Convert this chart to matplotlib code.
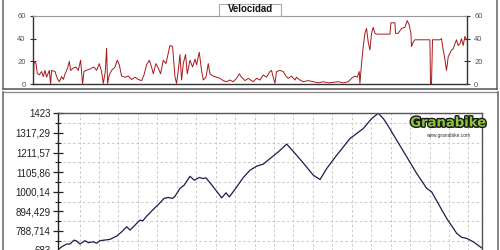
import numpy as np
import matplotlib
matplotlib.use("Agg")
import matplotlib.pyplot as plt
from matplotlib.lines import Line2D
from matplotlib.patches import Rectangle
import matplotlib.patheffects as pe

# ---- data ----
speed_km = [0.00, 0.07, 0.27, 0.40, 0.60, 0.83, 1.00, 1.17, 1.33, 1.60, 1.73, 1.83, 2.17, 2.40, 2.60,
            2.83, 3.00, 3.20, 3.43, 3.60, 3.73, 4.00, 4.27, 4.50, 4.73, 4.93, 5.07, 5.27, 5.60, 5.83,
            6.07, 6.33, 6.60, 6.83, 7.00, 7.20, 7.33, 7.43, 7.60, 7.83, 8.17, 8.40, 8.60, 8.83, 9.17,
            9.50, 9.83, 10.17, 10.50, 10.83, 11.07, 11.33, 11.60, 11.83, 12.00, 12.27, 12.50, 12.73,
            13.00, 13.27, 13.50, 13.67, 13.93, 14.17, 14.33, 14.50, 14.67, 14.83, 15.00, 15.23, 15.40,
            15.67, 15.93, 16.17, 16.33, 16.60, 16.83, 17.00, 17.27, 17.50, 17.67, 18.00, 18.33, 18.67,
            19.00, 19.33, 19.67, 20.00, 20.33, 20.60, 20.83, 21.17, 21.50, 22.00, 22.33, 22.67, 23.00,
            23.33, 23.67, 23.83, 24.00, 24.17, 24.33, 24.67, 25.00, 25.27, 25.50, 25.83, 26.17, 26.33,
            26.67, 27.00, 27.50, 28.00, 28.50, 29.00, 29.50, 30.00, 30.50, 31.00, 31.50, 31.83, 32.17,
            32.40, 32.60, 32.67, 32.83, 33.00, 33.17, 33.33, 33.50, 33.67, 33.83, 34.00, 34.17, 34.33,
            35.67, 35.77, 36.17, 36.23, 36.50, 36.83, 37.17, 37.40, 37.60, 37.77, 37.83, 38.00, 38.17,
            39.67, 39.73, 39.83, 39.93, 40.67, 40.83, 41.00, 41.17, 41.33, 41.50, 41.67, 41.83, 42.00,
            42.17, 42.33, 42.50, 42.67, 42.83, 43.00, 43.17, 43.33]
speed_val = [0, 19.7, 18, 9.4, 8, 11, 6.5, 12, 6, 12, 0, 12, 11, 5, 2,
             6.5, 4, 9.4, 14, 20, 12, 14, 15, 12, 21, 0, 11, 12, 13, 14,
             15, 12, 18, 11, 0.5, 11, 31.5, 0.5, 8, 12, 15, 21, 17, 7, 6,
             7, 4, 6, 4, 3, 8, 17, 21, 15, 9, 18, 14, 9,
             21, 18, 27, 34, 33, 6.5, 0.5, 12, 26, 3.5, 18, 26, 9,
             21, 15, 22, 17, 28, 12, 3.5, 6, 18, 9, 7, 6, 5,
             3, 2, 3.5, 2, 5, 9, 6, 3, 5, 2, 5, 3.5, 8,
             6, 11, 12, 6, 0.5, 11, 12, 11, 7, 5, 7, 3.5, 6,
             3.5, 2, 3, 2, 1, 2, 1, 1.5, 2, 1, 2, 5, 7,
             6, 11, 0.5, 18, 33, 44.7, 49, 37, 30, 44.7, 50, 44.7, 44,
             44, 54, 54, 44.7, 44.7, 49, 50, 56, 52, 44.7, 33, 37, 39,
             39, 0, 0, 39, 39, 40, 30, 22, 12, 24, 27, 30, 31,
             35.5, 39, 34, 35.5, 40, 34, 42, 39]

elev_km = [0.00, 0.35, 0.86, 1.20, 1.60, 1.81, 2.22, 2.73, 3.07, 3.58, 3.92, 4.26, 5.28, 5.97, 6.48,
           6.99, 7.33, 8.01, 8.35, 8.63, 9.03, 9.71, 10.39, 10.80, 11.24, 11.69, 11.93, 12.44, 12.85,
           13.46, 13.90, 14.41, 14.76, 15.09, 15.84, 16.70, 17.14, 17.48, 18.23, 18.91, 19.59, 20.28,
           20.95, 21.64, 22.48, 23.34, 24.19, 25.21, 26.06, 26.75, 27.43, 28.45, 29.81, 31.17, 32.03,
           32.70, 33.22, 33.56, 34.58, 35.61, 36.63, 37.65, 38.16, 39.01, 39.69, 40.72, 41.23, 41.74,
           42.41, 43.33]
elev_val = [689, 703, 718, 718, 739, 736, 718, 736, 725, 730, 722, 736, 743, 761, 784,
            811, 793, 829, 847, 843, 868, 905, 940, 964, 969, 964, 976, 1018, 1035,
            1083, 1062, 1077, 1071, 1075, 1026, 967, 994, 972, 1026, 1077, 1116, 1138,
            1149, 1179, 1215, 1257, 1207, 1144, 1089, 1066, 1125, 1197, 1287, 1341, 1395,
            1423, 1394, 1368, 1278, 1188, 1098, 1018, 999, 919, 856, 775, 754, 748,
            730, 695]

speed_ticks = [0, 20, 40, 60]
elev_ticks = [683, 788.714, 894.429, 1000.14, 1105.86, 1211.57, 1317.29, 1423]
elev_labels = ["683", "788,714", "894,429", "1000,14", "1105,86", "1211,57", "1317,29", "1423"]
title_text = "Velocidad"

# ---- figure ----
W, H = 500, 250
fig = plt.figure(figsize=(5, 2.5), dpi=100)
fig.patch.set_facecolor("white")
plt.rcParams['font.family'] = ['Liberation Sans', 'DejaVu Sans']

def fx(px):
    return px / W

def fy(py):
    return 1 - py / H

# panel frames
fig.add_artist(Line2D([fx(3), fx(3)], [fy(0), fy(89)], color="#707070", lw=1.2))
fig.add_artist(Line2D([fx(497), fx(497)], [fy(0), fy(89)], color="#707070", lw=1.2))
fig.add_artist(Line2D([fx(3), fx(497)], [fy(89), fy(89)], color="#606060", lw=1.2))
fig.add_artist(Line2D([fx(3), fx(497)], [fy(91.5), fy(91.5)], color="#909090", lw=1.0))
fig.add_artist(Line2D([fx(3), fx(3)], [fy(91.5), fy(251)], color="#707070", lw=1.2))
fig.add_artist(Line2D([fx(497.5), fx(497.5)], [fy(91.5), fy(251)], color="#707070", lw=1.2))

# ---- top: speed ----
ax1 = fig.add_axes([fx(33.3), fy(84), fx(466.5) - fx(33.3), fy(16) - fy(84)])
ax1.plot(speed_km, speed_val, color="#a81818", lw=0.7)
ax1.set_xlim(0, 43.33)
ax1.set_ylim(0, 60)
ax1.set_xticks([])
ax1.set_yticks(speed_ticks)
ax1.tick_params(axis="y", which="both", direction="inout", length=5, width=0.8,
                labelsize=5.5, labelcolor="#555555", color="#333333", pad=3,
                left=True, right=True, labelleft=True, labelright=True)
for s in ["left", "right", "bottom"]:
    ax1.spines[s].set_color("#333333")
    ax1.spines[s].set_linewidth(1.0)
ax1.spines["top"].set_color("#999999")
ax1.spines["top"].set_linewidth(0.8)

# title box
fig.add_artist(Rectangle((fx(219), fy(16)), fx(62), 12 / H, facecolor="white",
                         edgecolor="#aaaaaa", lw=0.8))
fig.text(fx(250), fy(9.5), title_text, ha="center", va="center", fontsize=6.9,
         fontweight="bold", color="#111111")

# ---- bottom: elevation ----
ax2 = fig.add_axes([fx(58.3), fy(250.5), fx(482.3) - fx(58.3), fy(113.3) - fy(250.5)])
ax2.plot(elev_km, elev_val, color="#1c1c50", lw=0.9)
ax2.set_xlim(0, 43.33)
ax2.set_ylim(683, 1423)
ax2.set_yticks(elev_ticks)
ax2.set_yticklabels(elev_labels)
mids = [(a + b) / 2 for a, b in zip(elev_ticks[:-1], elev_ticks[1:])]
ax2.set_yticks(mids, minor=True)
xgrid = 2.17 + 1.987 * np.arange(21)
ax2.set_xticks(xgrid, minor=True)
ax2.set_xticks([])
ax2.tick_params(axis="y", which="major", direction="inout", length=7, width=0.9,
                labelsize=7, labelcolor="#222222", color="#222222", pad=2)
ax2.tick_params(axis="y", which="minor", direction="inout", length=4, width=0.8, color="#222222")
ax2.tick_params(axis="x", which="minor", length=0)
ax2.grid(which="minor", axis="both", color="#c8c8c8", linestyle=(0, (2.5, 2.5)), lw=0.7)
for s in ["left", "right", "top", "bottom"]:
    ax2.spines[s].set_color("#555555")
    ax2.spines[s].set_linewidth(1.0)
ax2.spines["left"].set_color("#222222")

# logo
logo = fig.text(fx(448.5), fy(123), "Granabike", ha="center", va="center", fontsize=9.5,
                fontweight="bold", color="#8cc43c", family="DejaVu Sans")
logo.set_path_effects([pe.withStroke(linewidth=2.0, foreground="#1a1a1a")])
fig.text(fx(448.5), fy(136), "www.granabike.com", ha="center", va="center", fontsize=3.5,
         color="#333333")

fig.savefig("out.png", dpi=100, facecolor="white")
